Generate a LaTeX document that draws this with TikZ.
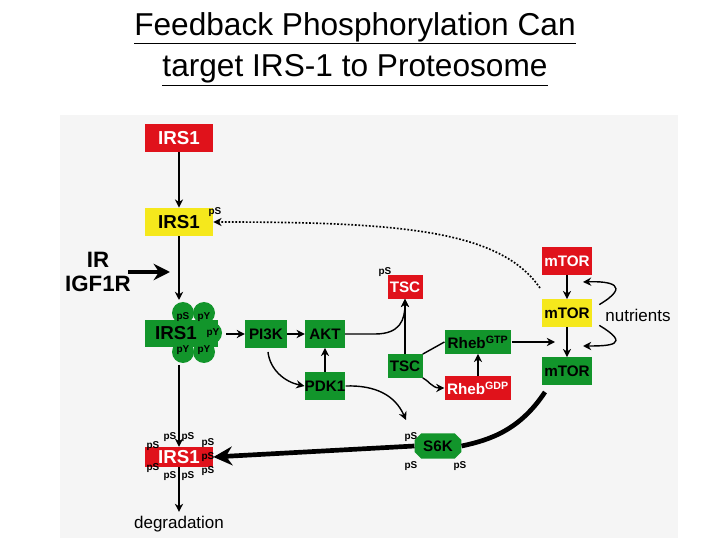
\documentclass[tikz,border=0pt]{standalone}
\usepackage{fontspec}
\setmainfont{Liberation Sans}
\usetikzlibrary{arrows.meta,shapes.misc}
\definecolor{rd}{HTML}{E0121B}
\definecolor{gn}{HTML}{12952B}
\definecolor{yl}{HTML}{F5E81C}
\definecolor{bg}{HTML}{F5F5F5}
\begin{document}
\begin{tikzpicture}[x=0.03cm,y=-0.03cm,
 box/.style={minimum width=2.05cm,minimum height=0.85cm,inner sep=0pt,font=\bfseries\fontsize{16}{16}\selectfont},
 sbox/.style={minimum width=1.2cm,minimum height=0.82cm,inner sep=0pt,font=\bfseries\fontsize{13}{13}\selectfont},
 red/.style={fill=rd,text=white},grn/.style={fill=gn,text=black},yel/.style={fill=yl,text=black},
 ps/.style={font=\bfseries\fontsize{8.5}{8.5}\selectfont,inner sep=0pt},
 ar/.style={-{Stealth[length=7pt,width=7pt]},line width=1.2pt},
 lbl/.style={font=\fontsize{14.5}{14.5}\selectfont}]
\useasboundingbox (0,0) rectangle (720,540);
\fill[bg] (60,115) rectangle (678,538);
\node[font=\fontsize{27}{27}\selectfont,inner sep=0pt] (t1) at (355,28) {\underline{Feedback Phosphorylation Can}};
\node[font=\fontsize{27}{27}\selectfont,inner sep=0pt] (t2) at (355,70) {\underline{target IRS-1 to Proteosome}};
% IRS1 column
\node[box,red] (i1) at (179,138) {IRS1};
\node[box,yel] (i2) at (179,222) {IRS1};
\node[ps] (ps0) at (215,212) {pS};
\fill[gn] (145,320) rectangle (218,347);
\foreach \cx/\cy in {183/313, 204/313, 183/352, 204/352, 211/333} \fill[gn] (\cx,\cy) circle (0.33cm);
\node[box,text=black,minimum width=1.5cm] (i3) at (176,333) {IRS1};
\node[ps] at (183,317) {pS};\node[ps] at (204,317) {pY};\node[ps] at (213,333) {pY};
\node[ps] at (183,350) {pY};\node[ps] at (204,350) {pY};
\node[box,red,minimum height=0.6cm] (i4) at (179,457) {IRS1};
\node[ps] at (153,446) {pS};\node[ps] at (170,437) {pS};\node[ps] at (188,437) {pS};\node[ps] at (208,443) {pS};
\node[ps] at (208,457) {pS};\node[ps] at (208,471) {pS};\node[ps] at (153,468) {pS};\node[ps] at (170,476) {pS};\node[ps] at (188,476) {pS};
\node[lbl] (deg) at (179,524) {degradation};
\node[font=\bfseries\fontsize{19}{21}\selectfont,align=center] (ir) at (98,272) {IR\\IGF1R};
\coordinate (irS) at (128,272);
\coordinate (irE) at (170,272);
\coordinate (i3n) at (179,300);
\coordinate (i3s) at (179,365);
\coordinate (i3e) at (226,334);
\draw[ar] (i1) -- (i2);
\draw[ar] (i2) -- (i3n);
\draw[ar] (i3s) -- (i4);
\draw[ar] (i4) -- (deg);
\draw[-{Stealth[length=14pt,width=14pt]},line width=3.5pt] (irS) -- (irE);
% PI3K etc
\node[sbox,grn,minimum width=1.25cm] (pi) at (266,334) {PI3K};
\node[sbox,grn] (akt) at (325,334) {AKT};
\node[sbox,grn] (pdk) at (325,386) {PDK1};
\draw[ar] (i3e) -- (pi);
\draw[ar] (pi) -- (akt);
\draw[ar] (pdk) -- (akt);
\draw[ar] (268,352) .. controls (270,370) and (285,382) .. (pdk.west);
% TSC
\node[sbox,red,minimum width=1.05cm,minimum height=0.7cm] (tscr) at (405,287) {TSC};
\node[ps] at (385,272) {pS};
\node[sbox,grn,minimum width=1.05cm,minimum height=0.7cm] (tscg) at (405,366) {TSC};
\draw[ar] (akt.east) -- (375,334) .. controls (400,334) and (405,320) .. (tscr.south);
\draw[ar] (tscg) -- (tscr);
\node[sbox,grn,minimum width=2.0cm,minimum height=0.7cm] (rg) at (478,342) {Rheb\textsuperscript{GTP}};
\node[sbox,red,minimum width=2.0cm,minimum height=0.7cm] (rd) at (478,388) {Rheb\textsuperscript{GDP}};
\draw[line width=1.2pt] (tscg.north east) -- (rg.west);
\draw[ar] (tscg.south east) .. controls (428,380) and (432,388) .. (rd.west);
\draw[ar] (rd) -- (rg);
% mTOR
\node[sbox,red,minimum width=1.5cm] (m1) at (567,261) {mTOR};
\node[sbox,yel,minimum width=1.5cm] (m2) at (567,313) {mTOR};
\node[sbox,grn,minimum width=1.5cm] (m3) at (567,371) {mTOR};
\node[lbl] (nut) at (638,315) {nutrients};
\draw[ar] (m1) -- (m2);
\draw[ar] (m2) -- (m3);
\draw[ar] (rg.east) -- (555,342);
\draw[ar] (nut.north west) ++(-2,0) .. controls (632,285) and (610,281) .. (583,282);
\draw[ar] (nut.south west) ++(-2,0) .. controls (632,345) and (610,346) .. (583,346);
\draw[-{Stealth[length=7pt,width=7pt]},line width=1.4pt,dash pattern=on 1.5pt off 1.5pt] (540,288) .. controls (500,230) and (400,222) .. (i2.east);
% S6K
\node[chamfered rectangle,chamfered rectangle xsep=2pt,fill=gn,minimum width=1.4cm,minimum height=0.75cm,inner sep=0pt,font=\bfseries\fontsize{13}{13}\selectfont] (s6) at (438,446) {S6K};
\node[ps] at (411,437) {pS};\node[ps] at (411,466) {pS};\node[ps] at (460,466) {pS};
\draw[ar] (pdk.east) .. controls (375,385) and (395,395) .. (406,420);
\draw[line width=4pt] (545,392) .. controls (520,430) and (490,440) .. (s6.east);
\draw[-{Stealth[length=16pt,width=16pt]},line width=4pt] (s6.west) -- (i4.east);
\end{tikzpicture}
\end{document}
